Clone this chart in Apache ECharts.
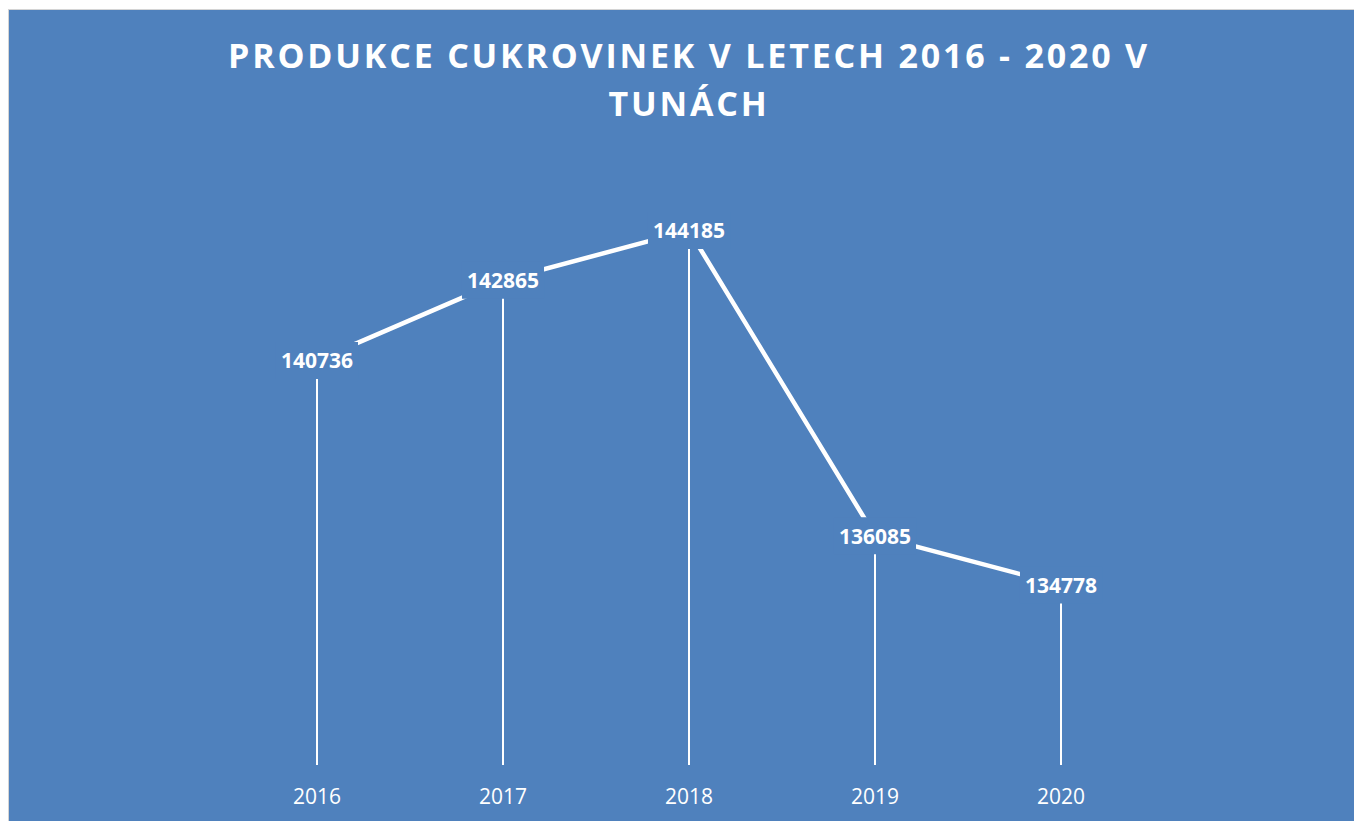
<!DOCTYPE html>
<html>
<head>
<meta charset="utf-8">
<script src="https://cdn.jsdelivr.net/npm/echarts@6/dist/echarts.min.js"></script>
<style>
  html, body { margin: 0; padding: 0; background: #ffffff; }
  #chart { position: absolute; left: 8px; top: 9px; width: 1346px; height: 812px;
           background: #4F81BD; border-left: 1px solid #d4d4d4; border-top: 1px solid #d4d4d4; }
  #chart svg text[style*="34px"] { letter-spacing: 2.8px; }
</style>
</head>
<body>
<div id="chart"></div>
<script>
const categories = ['2016', '2017', '2018', '2019', '2020'];
const values = [140736, 142865, 144185, 136085, 134778];
const titleText = 'PRODUKCE CUKROVINEK V LETECH 2016 - 2020 V\nTUNÁCH';

const chart = echarts.init(document.getElementById('chart'), null, { renderer: 'svg' });
chart.setOption({
  backgroundColor: '#4F81BD',
  animation: false,
  title: {
    text: titleText,
    left: 675,
    top: 16,
    textAlign: 'center',
    textStyle: {
      color: '#ffffff',
      fontFamily: 'Open Sans',
      fontWeight: 'bold',
      fontSize: 34,
      lineHeight: 48
    }
  },
  grid: { left: 215, top: 152, width: 930, height: 603 },
  xAxis: {
    type: 'category',
    data: categories,
    boundaryGap: true,
    axisLine: { show: false },
    axisTick: { show: false },
    axisLabel: { color: '#ffffff', fontFamily: 'Open Sans', fontSize: 21, margin: 20 }
  },
  yAxis: {
    type: 'value',
    min: 130000,
    max: 146000,
    interval: 2000,
    show: false,
    splitLine: { show: false }
  },
  series: [
    {
      type: 'bar',
      data: values,
      barWidth: 2,
      itemStyle: { color: '#ffffff' },
      z: 1
    },
    {
      type: 'line',
      data: values,
      symbol: 'circle',
      symbolSize: 1,
      itemStyle: { color: '#ffffff' },
      lineStyle: { color: '#ffffff', width: 4.5 },
      z: 2,
      label: {
        show: true,
        position: 'inside',
        color: '#ffffff',
        fontFamily: 'Open Sans',
        fontWeight: 'bold',
        fontSize: 21,
        lineHeight: 21,
        backgroundColor: '#4F81BD',
        padding: [7, 5, 9, 5]
      }
    }
  ]
});
</script>
</body>
</html>
